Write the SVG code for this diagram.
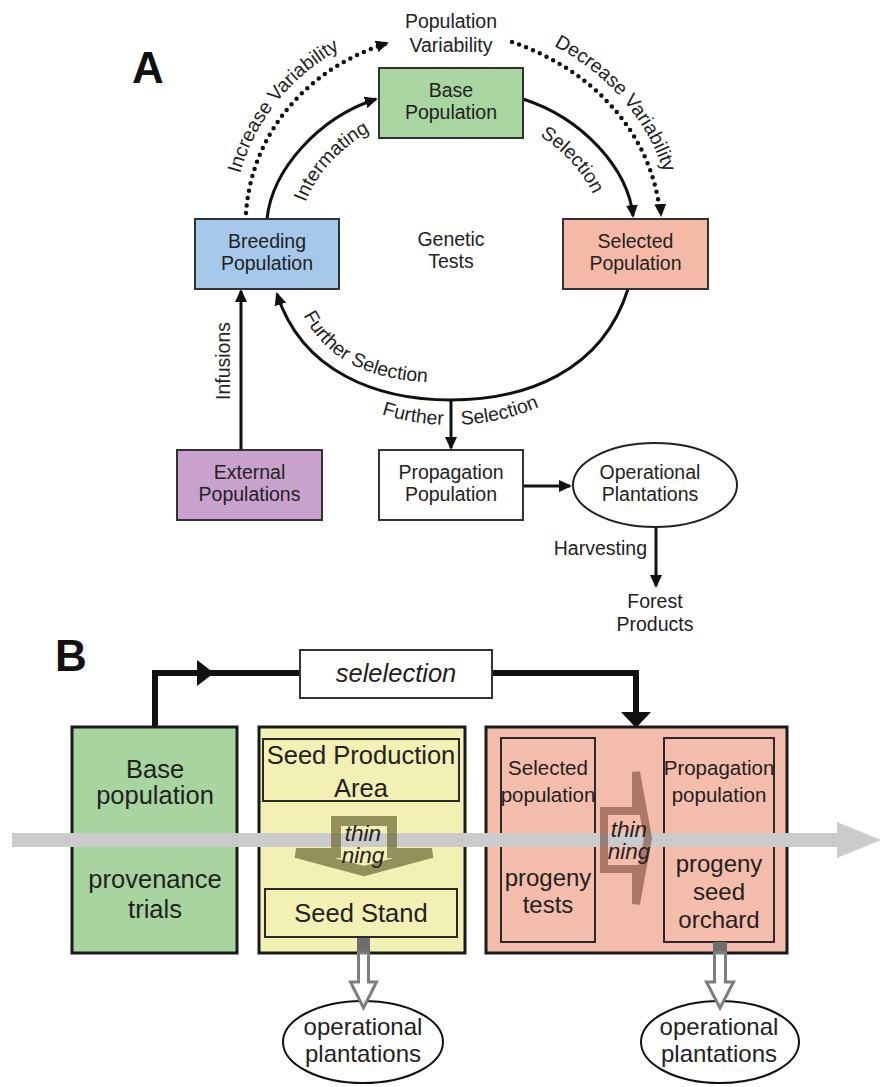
<svg xmlns="http://www.w3.org/2000/svg" width="883" height="1087" viewBox="0 0 883 1087">
<defs>
<style>
text{font-family:"Liberation Sans",Arial,Helvetica,sans-serif;fill:#222}
.a{font-size:19.5px}
.c{text-anchor:middle}
.lab{font-size:44px;font-weight:bold;fill:#111}
.box{stroke:#333;stroke-width:2}
.obox{stroke:#1a1a1a;stroke-width:3}
.ibox{stroke:#2a2a2a;stroke-width:2;fill:none}
.line{fill:none;stroke:#111;stroke-width:3}
.dot{fill:none;stroke:#111;stroke-width:4.5;stroke-dasharray:0 7.5;stroke-linecap:round}
.thick{fill:none;stroke:#111;stroke-width:6;stroke-linejoin:miter}
.b25{font-size:25.5px}
.b24{font-size:24px}
.b20{font-size:20.5px}
.th{font-size:22.5px;font-style:italic}
.it{font-style:italic}
.thin1{fill:none;stroke:#6b6632;stroke-opacity:0.7;stroke-width:10;stroke-linejoin:miter}
.thin2{fill:none;stroke:#7a4a3c;stroke-opacity:0.6;stroke-width:8;stroke-linejoin:miter}
.out{fill:#fff;stroke:#7d7d7d;stroke-width:3}
.ell{fill:#fff;stroke:#111;stroke-width:2}
</style>
<marker id="ah" viewBox="0 0 13 12" refX="11" refY="6" markerWidth="13" markerHeight="12" markerUnits="userSpaceOnUse" orient="auto"><path d="M0,0 L13,6 L0,12 z" fill="#111"/></marker>
<path id="tpInter" d="M 300 224 C 306 182, 340 142, 390 122"/>
<path id="tpSel" d="M 512 122 C 562 142, 596 182, 602 224"/>
<path id="tpInc" d="M 233 213 C 240 124, 302 57, 380 32"/>
<path id="tpDec" d="M 517 30 C 596 57, 661 121, 673 212"/>
<path id="tpFurIn" d="M 293 289 C 316 367, 379 383, 451 383"/>
<path id="tpFurOut" d="M 251 250 A 200 175 0 0 0 651 250"/>
</defs>

<rect x="0" y="0" width="883" height="1087" fill="#fff"/>

<!-- Panel A -->
<text class="lab" x="132" y="83">A</text>

<g id="connectorsA">
  <path class="line" d="M 267 219 C 272 170, 318 118, 376 99" marker-end="url(#ah)"/>
  <path class="line" d="M 523 99 C 582 118, 628 168, 633 216" marker-end="url(#ah)"/>
  <path class="line" d="M 628 289 C 602 372, 525 400, 451 400 C 377 400, 302 372, 277 294" marker-end="url(#ah)"/>
  <path class="dot" d="M 246 213 C 252 130, 310 68, 385 44"/>
  <path fill="none" stroke="none" d="M 310 68 L 387 43" marker-end="url(#ah)"/>
  <path class="dot" d="M 512 42 C 588 68, 650 128, 660 212"/>
  <path fill="none" stroke="none" d="M 660 200 L 661 215" marker-end="url(#ah)"/>
  <path class="line" d="M 451 400 L 451 448" marker-end="url(#ah)"/>
  <path class="line" d="M 241 450 L 241 291" marker-end="url(#ah)"/>
  <path class="line" d="M 523 486 L 570 486" marker-end="url(#ah)"/>
  <path class="line" d="M 656 527 L 656 586" marker-end="url(#ah)"/>
  <text class="a"><textPath href="#tpInter" startOffset="50%" text-anchor="middle">Intermating</textPath></text>
  <text class="a"><textPath href="#tpSel" startOffset="50%" text-anchor="middle">Selection</textPath></text>
  <text class="a"><textPath href="#tpInc" startOffset="40">Increase Variability</textPath></text>
  <text class="a"><textPath href="#tpDec" startOffset="40">Decrease Variability</textPath></text>
  <text class="a"><textPath href="#tpFurIn" startOffset="28">Further Selection</textPath></text>
  <text class="a"><textPath href="#tpFurOut" startOffset="287" text-anchor="end">Further</textPath></text>
  <text class="a"><textPath href="#tpFurOut" startOffset="305">Selection</textPath></text>
  <text class="a c" transform="translate(230,361) rotate(-90)">Infusions</text>
  <text class="a" x="647" y="555" text-anchor="end">Harvesting</text>
</g>

<g id="popVariability">
  <text class="a c" x="451" y="28">Population</text>
  <text class="a c" x="451" y="52">Variability</text>
</g>

<g id="basePopulation">
  <rect class="box" x="379" y="68" width="144" height="70" fill="#a9d5a1"/>
  <text class="a c" x="451" y="97">Base</text>
  <text class="a c" x="451" y="119">Population</text>
</g>

<g id="breedingPopulation">
  <rect class="box" x="195" y="219" width="144" height="70" fill="#a6c8ea"/>
  <text class="a c" x="267" y="248">Breeding</text>
  <text class="a c" x="267" y="270">Population</text>
</g>

<g id="selectedPopulation">
  <rect class="box" x="563" y="219" width="145" height="70" fill="#f5baa7"/>
  <text class="a c" x="635.5" y="248">Selected</text>
  <text class="a c" x="635.5" y="270">Population</text>
</g>

<g id="geneticTests">
  <text class="a c" x="451" y="246">Genetic</text>
  <text class="a c" x="451" y="268">Tests</text>
</g>

<g id="externalPopulations">
  <rect class="box" x="177" y="450" width="145" height="70" fill="#c9a1cd"/>
  <text class="a c" x="249.5" y="479">External</text>
  <text class="a c" x="249.5" y="501">Populations</text>
</g>

<g id="propagationPopulation">
  <rect class="box" x="379" y="450" width="144" height="70" fill="#fff"/>
  <text class="a c" x="451" y="479">Propagation</text>
  <text class="a c" x="451" y="501">Population</text>
</g>

<g id="operationalPlantationsA">
  <ellipse cx="655" cy="485" rx="82" ry="42" fill="#fff" stroke="#222" stroke-width="2"/>
  <text class="a c" x="650" y="479">Operational</text>
  <text class="a c" x="650" y="501">Plantations</text>
</g>

<g id="forestProducts">
  <text class="a c" x="655" y="608">Forest</text>
  <text class="a c" x="655" y="631">Products</text>
</g>

<!-- Panel B -->
<text class="lab" x="55" y="671">B</text>

<g id="connectorsB">
  <path class="thick" d="M 155 727 L 155 673 L 300 673"/>
  <polygon points="197,660 214,673 197,686" fill="#111"/>
  <path class="thick" d="M 492 673 L 636 673 L 636 714"/>
  <polygon points="621,712 651,712 636,728" fill="#111"/>
</g>

<g id="selelection">
  <rect class="box" x="300" y="650" width="192" height="48" fill="#fff"/>
  <text class="b25 it c" x="396" y="682">selelection</text>
</g>

<g id="baseB">
  <rect class="obox" x="72" y="727" width="165" height="226" fill="#a8d4a0"/>
  <text class="b25 c" x="155" y="778">Base</text>
  <text class="b25 c" x="155" y="804">population</text>
  <text class="b25 c" x="155" y="888">provenance</text>
  <text class="b25 c" x="155" y="918">trials</text>
</g>

<g id="seedB">
  <rect class="obox" x="259" y="727" width="206" height="226" fill="#f3f0b4"/>
  <rect class="ibox" x="263" y="739" width="196" height="62"/>
  <text class="b25 c" x="361" y="764">Seed Production</text>
  <text class="b25 c" x="361" y="797">Area</text>
  <rect class="ibox" x="265" y="889" width="192" height="48"/>
  <text class="b25 c" x="361" y="922">Seed Stand</text>
</g>

<g id="selectedB">
  <rect class="obox" x="486" y="727" width="301" height="226" fill="#f4bcab"/>
  <rect class="ibox" x="501" y="738" width="94" height="204"/>
  <text class="b20 c" x="548" y="775">Selected</text>
  <text class="b20 c" x="548" y="802">population</text>
  <text class="b24 c" x="548" y="886">progeny</text>
  <text class="b24 c" x="548" y="913">tests</text>
  <rect class="ibox" x="664" y="738" width="110" height="204"/>
  <text class="b20 c" x="719" y="775">Propagation</text>
  <text class="b20 c" x="719" y="802">population</text>
  <text class="b24 c" x="719" y="872">progeny</text>
  <text class="b24 c" x="719" y="900">seed</text>
  <text class="b24 c" x="719" y="928">orchard</text>
</g>

<g id="timeArrow">
  <path d="M 12 833 H 837 V 822 L 881 840 L 837 858 V 847 H 12 Z" fill="#cbcbcb"/>
</g>

<g id="thinning1">
  <path class="thin1" d="M 336 821 L 392 821 L 392 853 L 432 853 L 364 871 L 296 853 L 336 853 Z"/>
  <text class="th c" x="363" y="841">thin</text>
  <text class="th c" x="363" y="863">ning</text>
</g>

<g id="thinning2">
  <path class="thin2" d="M 604 811 L 636 811 L 636 772 L 648 838 L 636 904 L 636 869 L 604 869 Z"/>
  <text class="th c" x="629" y="837">thin</text>
  <text class="th c" x="629" y="859">ning</text>
</g>

<g id="operationalB1">
  <ellipse class="ell" cx="363" cy="1042" rx="80" ry="41"/>
  <rect x="357" y="938" width="13" height="15" fill="#6e6e6e"/>
  <path class="out" d="M 358.5 953 L 368.5 953 L 368.5 982 L 376.5 982 L 363.5 1008 L 350.5 982 L 358.5 982 Z"/>
  <text class="b24 c" x="363" y="1035">operational</text>
  <text class="b24 c" x="363" y="1062">plantations</text>
</g>

<g id="operationalB2">
  <ellipse class="ell" cx="720" cy="1042" rx="79" ry="41"/>
  <rect x="713" y="942" width="14" height="11" fill="#6e6e6e"/>
  <path class="out" d="M 714.5 953 L 725.5 953 L 725.5 982 L 733.5 982 L 720 1008 L 706.5 982 L 714.5 982 Z"/>
  <text class="b24 c" x="719" y="1035">operational</text>
  <text class="b24 c" x="719" y="1062">plantations</text>
</g>
</svg>
